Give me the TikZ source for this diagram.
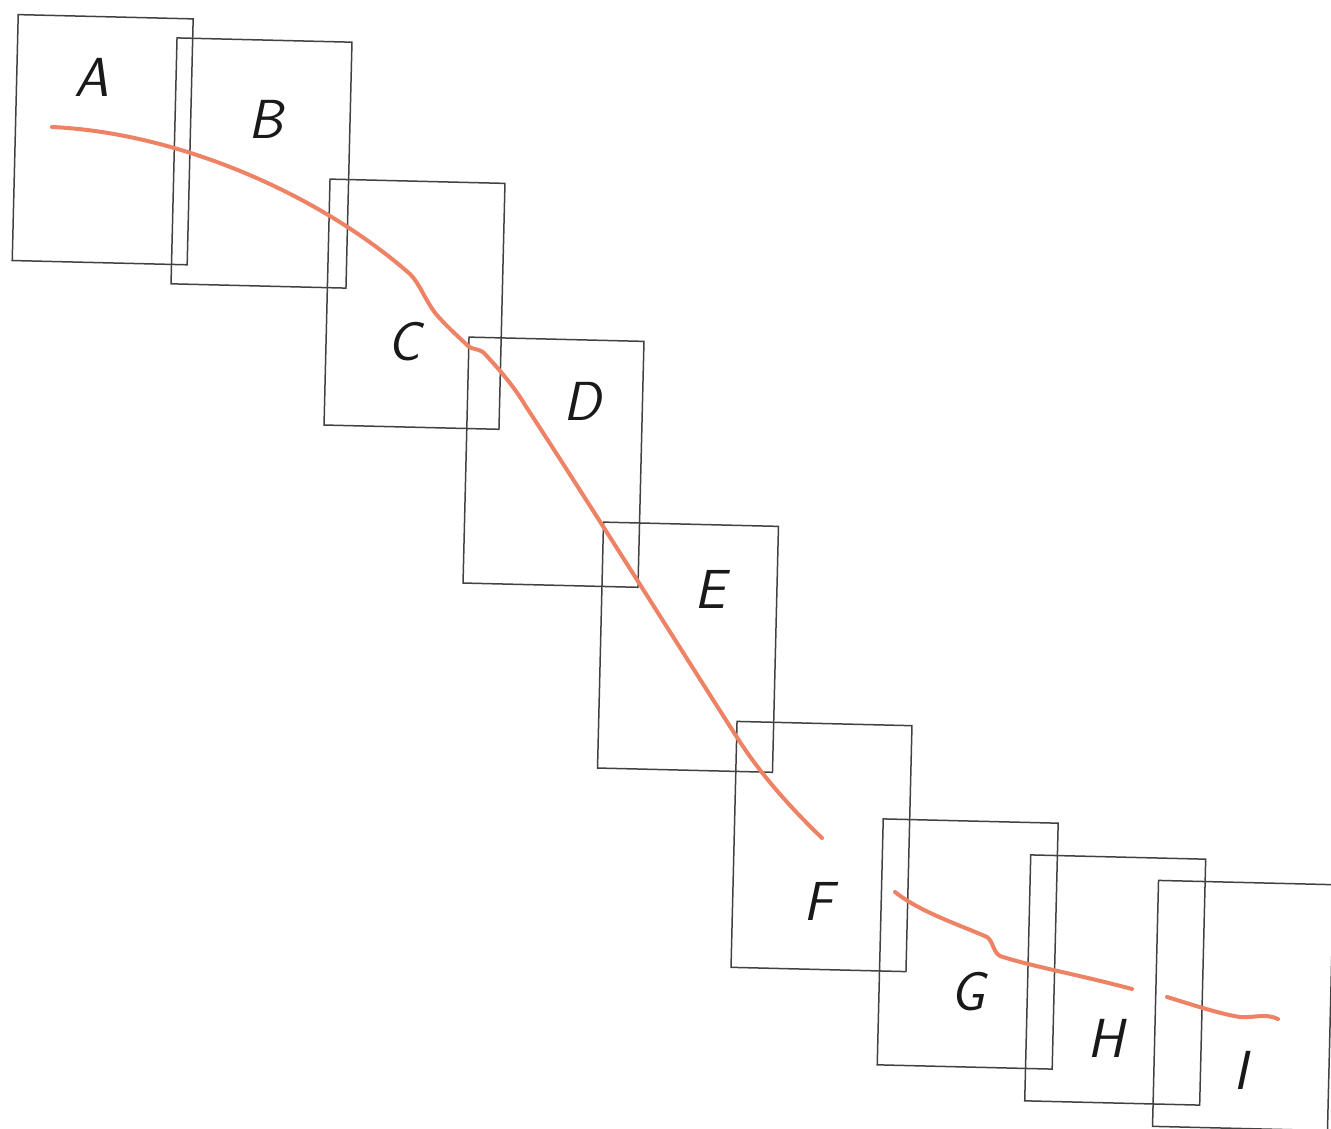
\documentclass[tikz,border=0pt]{standalone}
\usepackage{fontspec}
\definecolor{sheetgray}{RGB}{65,65,65}
\definecolor{traceorange}{RGB}{238,130,100}
\begin{document}
\begin{tikzpicture}[x=1pt,y=-1pt,
  sheet/.style={draw=sheetgray, line width=1.5pt, minimum width=175pt, minimum height=246pt, inner sep=0pt, outer sep=0pt, rotate=-1.4},
  letter/.style={font=\fontsize{55}{55}\selectfont\sffamily\itshape, inner sep=0pt, text=black!90},
  trace/.style={draw=traceorange, line width=4pt, line cap=round, line join=round}]
\useasboundingbox (0,0) rectangle (1331,1128);
\fill[white] (0,0) rectangle (1331,1128);
% sheets
\node[sheet] (sA) at (102.7,139.7) {};
\node[sheet] (sB) at (261.5,163) {};
\node[sheet] (sC) at (414.5,304.2) {};
\node[sheet] (sD) at (553.5,462.2) {};
\node[sheet] (sE) at (688,647.2) {};
\node[sheet] (sF) at (821.5,846.5) {};
\node[sheet] (sG) at (967.7,944) {};
\node[sheet] (sH) at (1115.2,980) {};
\node[sheet] (sI) at (1243,1005.5) {};
% letters
\node[letter] (lA) at (92,77) {A};
\node[letter] (lB) at (266,119) {B};
\node[letter] (lC) at (404,342) {C};
\node[letter] (lD) at (582,401) {D};
\node[letter] (lE) at (710,589) {E};
\node[letter] (lF) at (818,901) {F};
\node[letter] (lG) at (968,992) {G};
\node[letter] (lH) at (1106,1038) {H};
\node[letter] (lI) at (1241,1070) {I};
% traces
\draw[trace] (52,127) .. controls (180,133) and (320,195) .. (410,274)
  .. controls (420,284) and (425,300) .. (436,314)
  .. controls (448,328) and (460,338) .. (468,346)
  .. controls (473,350) and (478,348) .. (484,353)
  .. controls (500,370) and (515,388) .. (525,405)
  .. controls (600,520) and (700,680) .. (740,742)
  .. controls (765,780) and (795,812) .. (822,838);
\draw[trace] (895,892) .. controls (920,912) and (960,925) .. (987,937)
  .. controls (993,941) and (993,952) .. (1000,956)
  .. controls (1030,966) and (1080,975) .. (1132,989);
\draw[trace] (1167,997) .. controls (1190,1004) and (1220,1014) .. (1240,1017)
  .. controls (1255,1018) and (1265,1013) .. (1278,1019);
\end{tikzpicture}
\end{document}
